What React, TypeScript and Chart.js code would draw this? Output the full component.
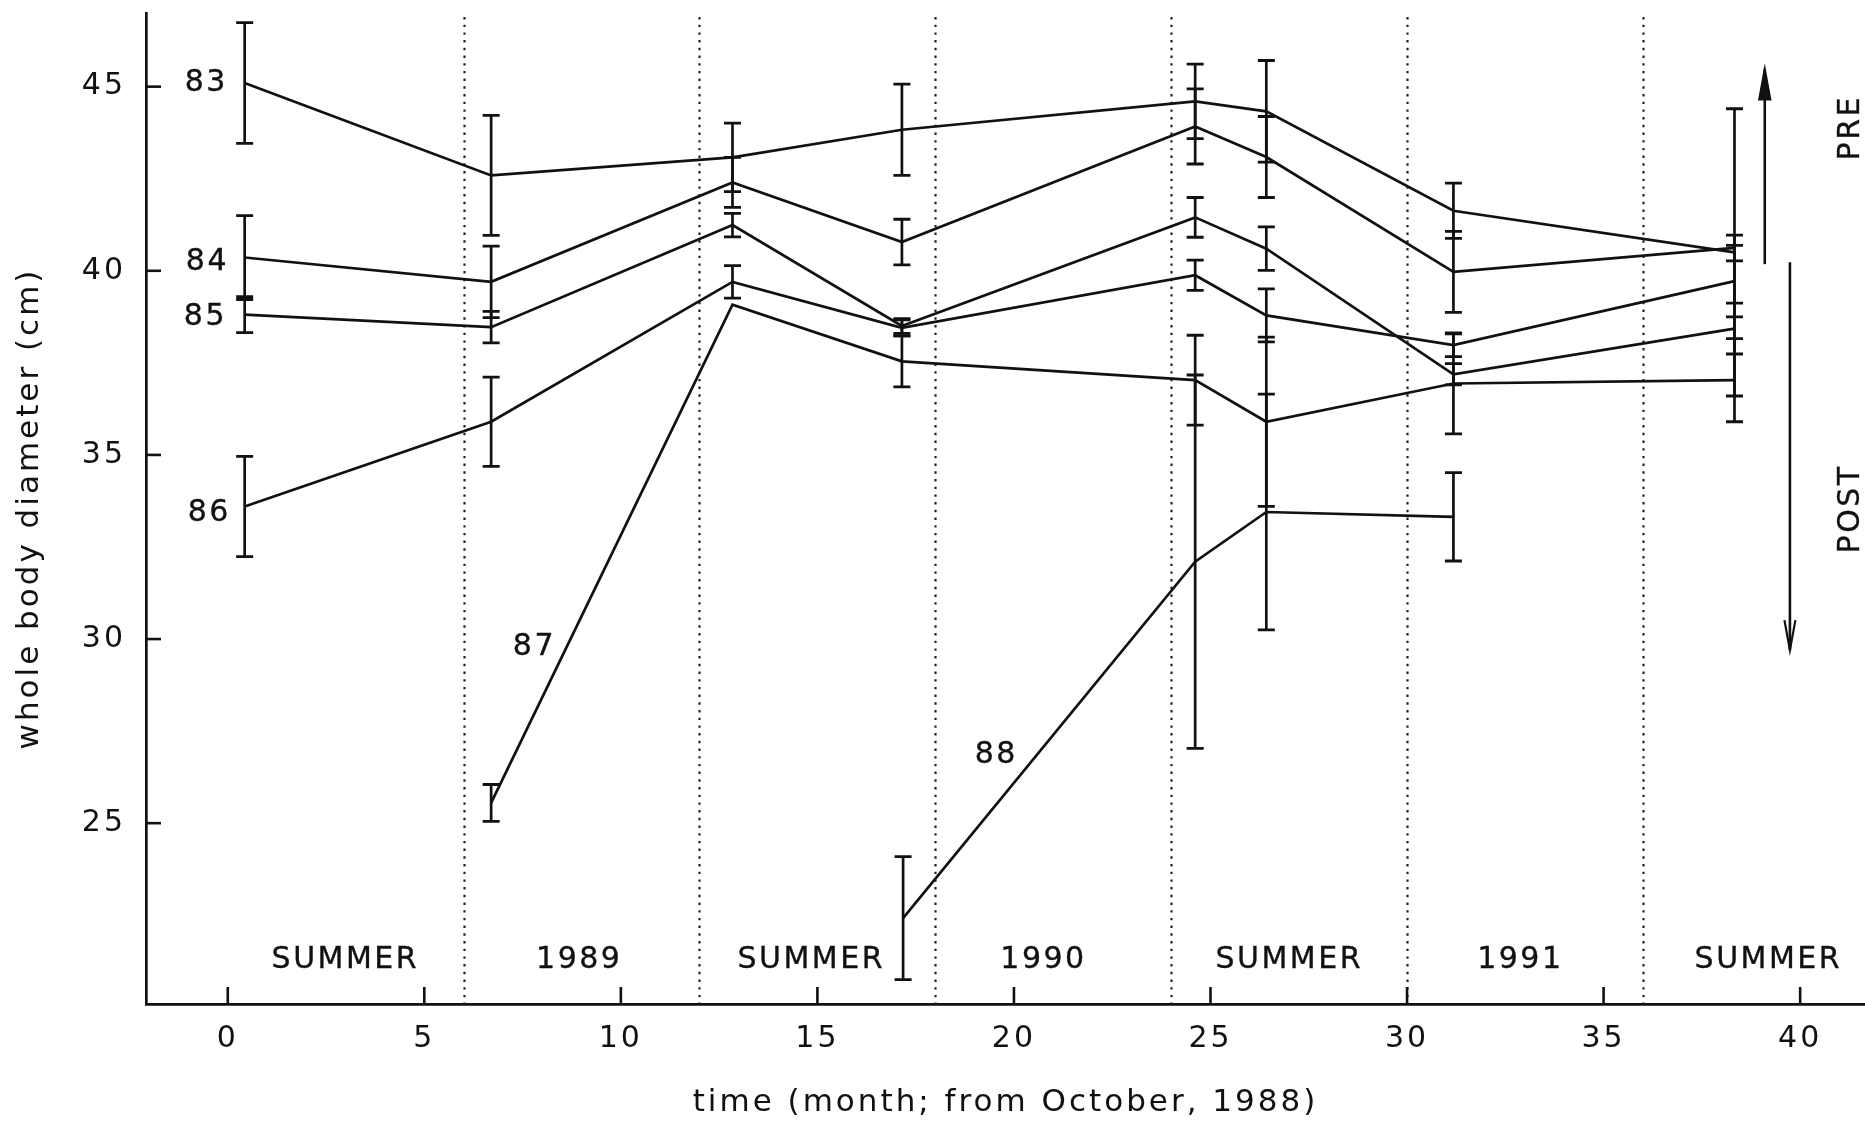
import React, { useEffect, useRef } from "react";
import { Chart, registerables } from "chart.js";

Chart.register(...registerables);

// ---- axis ticks ----
const xTickValues = [0, 5, 10, 15, 20, 25, 30, 35, 40];
const yTickValues = [25, 30, 35, 40, 45];

// ---- sampling times (months from October 1988) ----
const monthsMain = [0.43, 6.7, 12.84, 17.15, 24.61, 26.42, 31.18, 38.33];
const months87 = [6.7, 12.84, 17.15, 24.61, 26.42, 31.18, 38.33];
const months88 = [17.18, 24.61, 26.42, 31.18];

// ---- whole body diameter (cm), mean and error ----
const values83 = [45.1, 42.59, 43.08, 43.83, 44.6, 44.33, 41.63, 40.5];
const errors83 = [1.64, 1.63, 0.93, 1.24, 1.01, 1.38, 0.75, 3.9];
const values84 = [40.36, 39.7, 42.4, 40.78, 43.92, 43.09, 39.97, 40.62];
const errors84 = [1.14, 0.97, 0.68, 0.62, 1.02, 1.1, 1.1, 0.35];
const values85 = [38.81, 38.47, 41.24, 38.5, 41.45, 40.6, 37.19, 38.43];
const errors85 = [0.49, 0.43, 0.32, 0.2, 0.54, 0.59, 0.29, 0.69];
const values86 = [33.6, 35.9, 39.7, 38.45, 39.88, 38.79, 37.98, 39.72];
const errors86 = [1.36, 1.21, 0.44, 0.22, 0.41, 0.72, 0.31, 0.97];
const values87 = [25.55, 39.08, 37.54, 37.03, 35.9, 36.94, 37.03];
const errors87 = [0.5, 0, 0.69, 1.22, 2.3, 1.37, 1.13];
const values88 = [22.42, 32.1, 33.45, 33.32];
const errors88 = [1.67, 5.07, 3.2, 1.2];

// ---- cohort labels ----
const cohortNames = ["83", "84", "85", "86", "87", "88"];
const cohortLabelMonths = [-0.58, -0.55, -0.6, -0.5, 7.77, 19.52];
const cohortLabelValues = [44.87, 40.01, 38.52, 33.2, 29.56, 26.63];

// ---- seasons ----
const seasonNames = ["SUMMER", "1989", "SUMMER", "1990", "SUMMER", "1991", "SUMMER"];
const seasonMonths = [2.96, 8.91, 14.81, 20.72, 26.97, 32.85, 39.16];
const seasonBaselineValue = 21.08;
const boundaryMonths = [6, 12, 18, 24, 30, 36];

// ---- PRE / POST arrows ----
const arrowMonths = [39.1, 39.74];
const arrowFromValues = [40.18, 40.23];
const arrowToValues = [45.47, 29.7];
const sideLabels = ["PRE", "POST"];
const sideLabelMonth = 41.3;
const sideLabelValues = [43.85, 33.5];

const INK = "#111";
const FONT = "'DejaVu Sans', sans-serif";

const seriesList = [
  { months: monthsMain, values: values83, errors: errors83 },
  { months: monthsMain, values: values84, errors: errors84 },
  { months: monthsMain, values: values85, errors: errors85 },
  { months: monthsMain, values: values86, errors: errors86 },
  { months: months87, values: values87, errors: errors87 },
  { months: months88, values: values88, errors: errors88 },
];

const overlayPlugin = {
  id: "overlay",
  beforeDraw(chart: any) {
    chart.ctx.letterSpacing = "3px";
  },
  beforeDatasetsDraw(chart: any) {
    const { ctx, chartArea } = chart;
    const x = chart.scales.x;
    const y = chart.scales.y;
    ctx.save();
    ctx.letterSpacing = "0px";
    // dotted season boundaries
    ctx.strokeStyle = "#222";
    ctx.lineWidth = 2.2;
    ctx.setLineDash([2.4, 5.3]);
    boundaryMonths.forEach((m) => {
      const px = Math.round(x.getPixelForValue(m)) + 0.5;
      ctx.beginPath();
      ctx.moveTo(px, chartArea.top + 4);
      ctx.lineTo(px, chartArea.bottom);
      ctx.stroke();
    });
    ctx.setLineDash([]);
    // inward tick marks
    ctx.strokeStyle = INK;
    ctx.lineWidth = 2.6;
    yTickValues.forEach((v) => {
      const py = y.getPixelForValue(v);
      ctx.beginPath();
      ctx.moveTo(chartArea.left, py);
      ctx.lineTo(chartArea.left + 15, py);
      ctx.stroke();
    });
    xTickValues.forEach((v) => {
      const px = x.getPixelForValue(v);
      ctx.beginPath();
      ctx.moveTo(px, chartArea.bottom);
      ctx.lineTo(px, chartArea.bottom - 17);
      ctx.stroke();
    });
    ctx.restore();
  },
  afterDatasetsDraw(chart: any) {
    const { ctx } = chart;
    const x = chart.scales.x;
    const y = chart.scales.y;
    ctx.save();
    ctx.letterSpacing = "0px";
    ctx.strokeStyle = INK;
    ctx.lineCap = "butt";
    // error bars
    seriesList.forEach((s) => {
      s.months.forEach((m, i) => {
        const e = s.errors[i];
        if (!e) return;
        const px = x.getPixelForValue(m);
        const top = y.getPixelForValue(s.values[i] + e);
        const bot = y.getPixelForValue(s.values[i] - e);
        ctx.lineWidth = 2.7;
        ctx.beginPath();
        ctx.moveTo(px, top);
        ctx.lineTo(px, bot);
        ctx.stroke();
        ctx.lineWidth = 2.8;
        ctx.beginPath();
        ctx.moveTo(px - 8.5, top);
        ctx.lineTo(px + 8.5, top);
        ctx.moveTo(px - 8.5, bot);
        ctx.lineTo(px + 8.5, bot);
        ctx.stroke();
      });
    });
    // arrows
    arrowMonths.forEach((m, i) => {
      const px = x.getPixelForValue(m);
      const p0 = y.getPixelForValue(arrowFromValues[i]);
      const p1 = y.getPixelForValue(arrowToValues[i]);
      const dir = p1 < p0 ? 1 : -1;
      ctx.lineWidth = 2.6;
      ctx.beginPath();
      ctx.moveTo(px, p0);
      ctx.lineTo(px, p1);
      ctx.stroke();
      ctx.beginPath();
      ctx.moveTo(px - 5.5, p1 + dir * 30);
      ctx.lineTo(px, p1);
      ctx.lineTo(px + 5.5, p1 + dir * 30);
      if (dir === 1) {
        ctx.closePath();
        ctx.fillStyle = INK;
        ctx.fill();
      }
      ctx.lineWidth = 2.2;
      ctx.stroke();
    });
    // texts
    ctx.fillStyle = INK;
    ctx.strokeStyle = INK;
    ctx.lineWidth = 0.35;
    ctx.font = `30px ${FONT}`;
    ctx.letterSpacing = "2.5px";
    ctx.textAlign = "center";
    ctx.textBaseline = "alphabetic";
    const put = (t: string, px: number, py: number) => {
      ctx.fillText(t, px, py);
      ctx.strokeText(t, px, py);
    };
    cohortNames.forEach((t, i) => {
      put(t, x.getPixelForValue(cohortLabelMonths[i]) + 1.25, y.getPixelForValue(cohortLabelValues[i]));
    });
    seasonNames.forEach((t, i) => {
      put(t, x.getPixelForValue(seasonMonths[i]) + 1.25, y.getPixelForValue(seasonBaselineValue));
    });
    ctx.textBaseline = "middle";
    sideLabels.forEach((t, i) => {
      ctx.save();
      ctx.translate(x.getPixelForValue(sideLabelMonth), y.getPixelForValue(sideLabelValues[i]));
      ctx.rotate(-Math.PI / 2);
      put(t, 1.25, 0);
      ctx.restore();
    });
    ctx.restore();
  },
};

export default function App() {
  const canvasRef = useRef<HTMLCanvasElement>(null);
  useEffect(() => {
    document.body.style.margin = "0";
    document.body.style.overflow = "hidden";
    Chart.defaults.font.family = FONT;
    const datasets = seriesList.map((s, k) => ({
      label: cohortNames[k],
      data: s.months.map((m, i) => ({ x: m, y: s.values[i] })),
      borderColor: INK,
      borderWidth: 2.7,
      pointRadius: 0,
      pointHoverRadius: 0,
      tension: 0,
      fill: false,
    }));
    const chart = new Chart(canvasRef.current as HTMLCanvasElement, {
      type: "line",
      data: { datasets },
      plugins: [overlayPlugin],
      options: {
        animation: false,
        responsive: false,
        maintainAspectRatio: false,
        events: [],
        layout: { padding: { top: 13, left: 0, right: 0, bottom: 0 } },
        plugins: { legend: { display: false }, tooltip: { enabled: false } },
        scales: {
          x: {
            type: "linear",
            min: -2.08,
            max: 41.65,
            afterBuildTicks: (s: any) => {
              s.ticks = xTickValues.map((v) => ({ value: v }));
            },
            afterFit: (s: any) => {
              s.height = 120;
              s.paddingLeft = 0;
              s.paddingRight = 0;
            },
            grid: { display: false, drawTicks: false },
            border: { display: true, color: INK, width: 2.7 },
            ticks: {
              autoSkip: false,
              maxRotation: 0,
              padding: 17,
              color: INK,
              font: { size: 30 },
              callback: (v: any) => String(v),
            },
            title: {
              display: true,
              text: "time (month; from October, 1988)",
              color: INK,
              font: { size: 31 },
              padding: { top: 0, bottom: 2 },
            },
          },
          y: {
            type: "linear",
            min: 20.09,
            max: 47.0,
            afterBuildTicks: (s: any) => {
              s.ticks = yTickValues.map((v) => ({ value: v }));
            },
            afterFit: (s: any) => {
              s.width = 146;
              s.paddingTop = 0;
              s.paddingBottom = 0;
            },
            grid: { display: false, drawTicks: false },
            border: { display: true, color: INK, width: 2.7 },
            ticks: {
              padding: 20,
              color: INK,
              font: { size: 30 },
              callback: (v: any) => String(v),
            },
            title: {
              display: true,
              text: "whole body diameter (cm)",
              color: INK,
              font: { size: 31 },
              padding: { top: 11, bottom: 0 },
            },
          },
        },
      },
    } as any);
    return () => chart.destroy();
  }, []);
  return (
    <canvas
      ref={canvasRef}
      width={1865}
      height={1124}
      style={{ display: "block", width: "1865px", height: "1124px" }}
    />
  );
}
